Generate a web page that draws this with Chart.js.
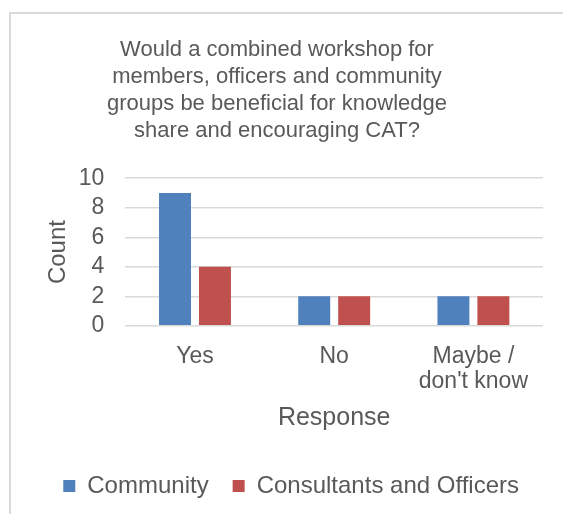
<!DOCTYPE html>
<html>
<head>
<meta charset="utf-8">
<script src="https://cdn.jsdelivr.net/npm/chart.js@4.4.1/dist/chart.umd.min.js"></script>
<style>
  html, body { margin: 0; padding: 0; background: #fff; overflow: hidden; }
  #frame {
    position: absolute; left: 9px; top: 12px;
    width: 600px; height: 600px;
    border-left: 2px solid #d9d9d9; border-top: 2px solid #d9d9d9;
  }
  #chart { display: block; }
</style>
</head>
<body>
<div id="frame"><canvas id="chart" width="552" height="500"></canvas></div>
<script>
// Survey answers per group
const responses = ["Yes", "No", ["Maybe /", "don't know"]];
const community = [9, 2, 2];
const consultantsOfficers = [4, 2, 2];
const countTicks = [0, 2, 4, 6, 8, 10];

const titleLines = [
  "Would a combined workshop for",
  "members, officers and community",
  "groups be beneficial for knowledge",
  "share and encouraging CAT?"
];

const textColor = "#595959";
const fontFamily = "'Liberation Sans', Arial, sans-serif";

Chart.defaults.font.family = fontFamily;
Chart.defaults.color = textColor;

const ctx = document.getElementById("chart").getContext("2d");
new Chart(ctx, {
  type: "bar",
  data: {
    labels: responses,
    datasets: [
      {
        label: "Community",
        data: community,
        backgroundColor: "#4f81bd",
        categoryPercentage: 0.574,
        barPercentage: 0.8,
      },
      {
        label: "Consultants and Officers",
        data: consultantsOfficers,
        backgroundColor: "#c0504d",
        categoryPercentage: 0.574,
        barPercentage: 0.8,
      },
    ],
  },
  options: {
    responsive: false,
    animation: false,
    layout: { padding: { left: 0, right: 20, top: 10, bottom: 6 } },
    plugins: {
      title: {
        display: true,
        text: titleLines,
        color: textColor,
        font: { size: 22, weight: "normal", lineHeight: 1.23 },
        padding: { top: 12, bottom: 34 },
      },
      legend: {
        position: "bottom",
        align: "end",
        labels: {
          color: textColor,
          font: { size: 24 },
          boxWidth: 12,
          boxHeight: 12,
          padding: 24,
        },
      },
      tooltip: { enabled: false },
    },
    scales: {
      x: {
        grid: { display: false },
        border: { display: false },
        ticks: {
          color: textColor,
          font: { size: 23, lineHeight: 1.09 },
          padding: 10,
          maxRotation: 0,
        },
        title: {
          display: true,
          text: "Response",
          color: textColor,
          font: { size: 25 },
          padding: { top: -1, bottom: 17 },
        },
      },
      y: {
        min: 0,
        max: 10,
        afterBuildTicks: (axis) => {
          axis.ticks = countTicks.map((v) => ({ value: v }));
        },
        grid: { color: "#d9d9d9", lineWidth: 1.5, drawTicks: false },
        border: { display: false },
        ticks: {
          color: textColor,
          font: { size: 23 },
          padding: 21,
          autoSkip: false,
        },
        title: {
          display: true,
          text: "Count",
          color: textColor,
          font: { size: 24 },
          padding: { top: 33, bottom: -15 },
        },
      },
    },
  },
});
</script>
</body>
</html>
